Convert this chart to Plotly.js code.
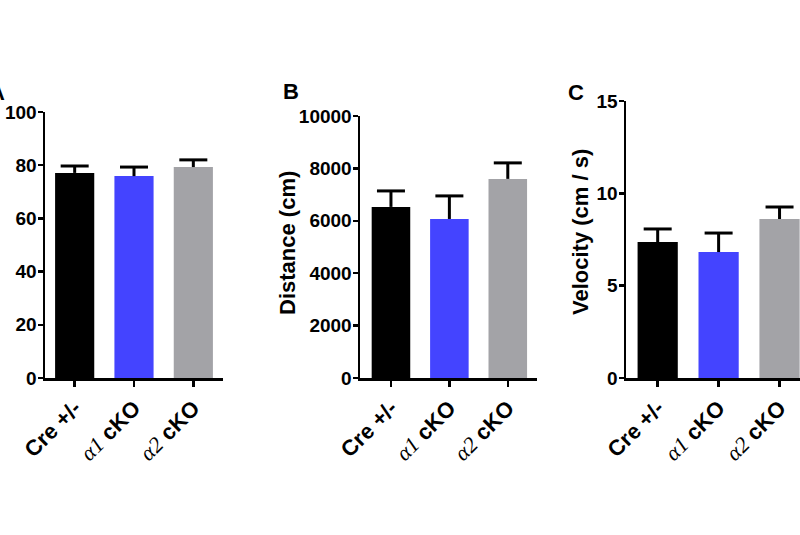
<!DOCTYPE html>
<html>
<head>
<meta charset="utf-8">
<script src="https://cdn.plot.ly/plotly-3.0.1.min.js"></script>
<style>
html,body{margin:0;padding:0;overflow:hidden;background:#fff;}
#chart{position:absolute;left:0;top:0;width:840px;height:535px;}
</style>
</head>
<body>
<div id="chart"></div>
<script>
// ---- data ----
const categories = ["Cre +/-", "a1 cKO", "a2 cKO"];
const tickLabels = [
  "<b>Cre +/-</b>",
  "<span style=\"font-family:'Liberation Serif',serif\"><i>α1</i></span><b> cKO</b>",
  "<span style=\"font-family:'Liberation Serif',serif\"><i>α2</i></span><b> cKO</b>"
];
const barColors = ["#000000", "#4444FF", "#A3A3A7"];

const percentMean = [77.1, 75.9, 79.3];
const percentErr  = [2.6, 3.4, 2.7];

const distanceMean = [6530, 6070, 7600];
const distanceErr  = [610, 880, 610];

const velocityMean = [7.36, 6.82, 8.61];
const velocityErr  = [0.71, 1.03, 0.65];

// ---- layout helpers ----
const W = 840, H = 535;
const fx = p => p / W;
const fy = p => 1 - p / H;
const FONT = "'Liberation Sans', Arial, sans-serif";

function barTrace(y, err, xa, ya) {
  return {
    type: "bar",
    x: categories,
    y: y,
    xaxis: xa,
    yaxis: ya,
    width: 0.66,
    marker: {color: barColors, line: {width: 0}},
    error_y: {
      type: "data",
      symmetric: false,
      array: err,
      arrayminus: [0, 0, 0],
      color: "#000",
      thickness: 3,
      width: 0
    },
    showlegend: false,
    hoverinfo: "none"
  };
}

// caps of the one-sided (upper) error bars
function capTrace(y, err, xa, ya) {
  return {
    type: "scatter",
    mode: "markers",
    x: categories,
    y: y.map((v, i) => v + err[i]),
    xaxis: xa,
    yaxis: ya,
    marker: {symbol: "line-ew", size: 20, line: {width: 3, color: "#000"}, color: "#000"},
    showlegend: false,
    hoverinfo: "none",
    cliponaxis: false
  };
}

function xAxis(domain, range, anchor) {
  return {
    domain: domain,
    range: range,
    anchor: anchor,
    type: "category",
    tickvals: categories,
    ticktext: tickLabels,
    tickangle: -45,
    tickfont: {family: FONT, size: 22, color: "#000"},
    ticks: "outside",
    ticklen: 6,
    tickwidth: 2.5,
    tickcolor: "#000",
    showline: true,
    linecolor: "#000",
    linewidth: 2.5,
    showgrid: false,
    zeroline: false,
    automargin: false,
    fixedrange: true
  };
}

function yAxis(domain, range, dtick, anchor) {
  return {
    domain: domain,
    range: range,
    anchor: anchor,
    dtick: dtick,
    tick0: 0,
    tickformat: "d",
    tickfont: {family: FONT, size: 19, color: "#000", weight: "bold"},
    ticks: "outside",
    ticklen: 5,
    tickwidth: 2.5,
    tickcolor: "#000",
    ticklabelstandoff: -3,
    showline: true,
    linecolor: "#000",
    linewidth: 2.5,
    showgrid: false,
    zeroline: false,
    automargin: false,
    fixedrange: true
  };
}

const data = [
  barTrace(percentMean, percentErr, "x", "y"),
  barTrace(distanceMean, distanceErr, "x2", "y2"),
  barTrace(velocityMean, velocityErr, "x3", "y3"),
  capTrace(percentMean, percentErr, "x", "y"),
  capTrace(distanceMean, distanceErr, "x2", "y2"),
  capTrace(velocityMean, velocityErr, "x3", "y3")
];

const layout = {
  width: W,
  height: H,
  margin: {l: 0, r: 0, t: 0, b: 0},
  paper_bgcolor: "#fff",
  plot_bgcolor: "rgba(0,0,0,0)",
  font: {family: FONT, color: "#000"},
  xaxis:  xAxis([fx(45), fx(223)], [-0.5, 2.5], "y"),
  yaxis:  yAxis([fy(378), fy(112)], [0, 100], 20, "x"),
  xaxis2: xAxis([fx(360), fx(537)], [-0.53, 2.5], "y2"),
  yaxis2: yAxis([fy(378), fy(116)], [0, 10000], 2000, "x2"),
  xaxis3: xAxis([fx(626), fx(810)], [-0.52, 2.5], "y3"),
  yaxis3: yAxis([fy(378), fy(101)], [0, 15], 5, "x3"),
  annotations: [
    {text: "<b>A</b>", xref: "paper", yref: "paper", x: fx(-3), y: fy(93),
     showarrow: false, font: {size: 22, family: FONT}, xanchor: "center", yanchor: "middle"},
    {text: "<b>B</b>", xref: "paper", yref: "paper", x: fx(291), y: fy(91),
     showarrow: false, font: {size: 22, family: FONT}, xanchor: "center", yanchor: "middle"},
    {text: "<b>C</b>", xref: "paper", yref: "paper", x: fx(576), y: fy(92),
     showarrow: false, font: {size: 22, family: FONT}, xanchor: "center", yanchor: "middle"},
    {text: "<b>Distance (cm)</b>", xref: "paper", yref: "paper", x: fx(287), y: fy(243),
     showarrow: false, textangle: -90, font: {size: 22, family: FONT}, xanchor: "center", yanchor: "middle"},
    {text: "<b>Velocity (cm / s)</b>", xref: "paper", yref: "paper", x: fx(580), y: fy(232),
     showarrow: false, textangle: -90, font: {size: 22, family: FONT}, xanchor: "center", yanchor: "middle"}
  ]
};

Plotly.newPlot("chart", data, layout, {displayModeBar: false, staticPlot: true});
</script>
</body>
</html>
